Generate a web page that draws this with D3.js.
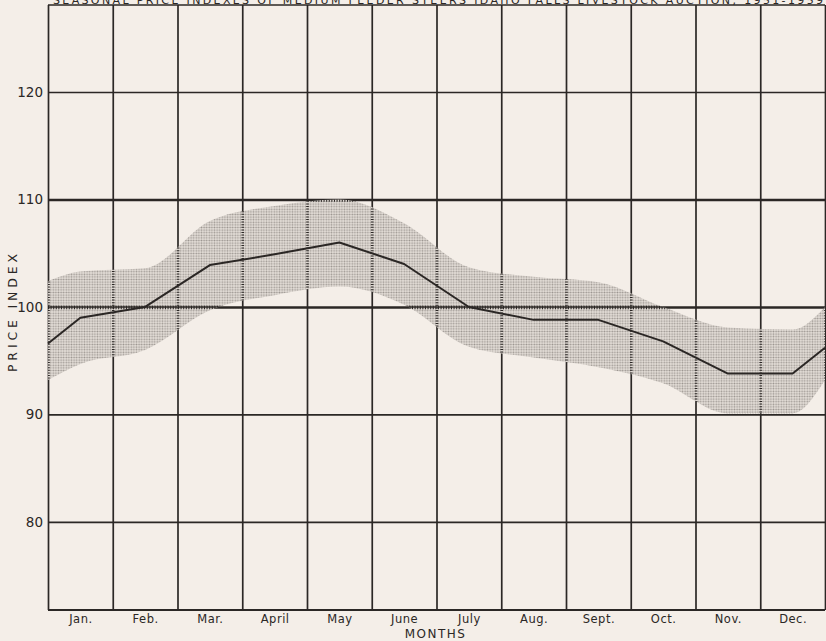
<!DOCTYPE html>
<html>
<head>
<meta charset="utf-8">
<script src="https://cdn.jsdelivr.net/npm/d3@7"></script>
<style>
  html, body { margin: 0; padding: 0; background: #f4eee8; }
  svg { display: block; }
  text { font-family: "DejaVu Sans", "Liberation Sans", sans-serif; fill: #2b2725; }
</style>
</head>
<body>
<svg id="chart" width="826" height="641"></svg>
<script>
// ---- data ----
const titleText = "SEASONAL PRICE INDEXES OF MEDIUM FEEDER STEERS IDAHO FALLS LIVESTOCK AUCTION, 1951-1959";
const months = ["Jan.", "Feb.", "Mar.", "April", "May", "June", "July", "Aug.", "Sept.", "Oct.", "Nov.", "Dec."];
const priceIndex = [99.0, 100.0, 103.9, 104.9, 106.0, 104.0, 100.0, 98.8, 98.8, 96.8, 93.8, 93.8];
const upperBand  = [103.3, 103.6, 108.0, 109.4, 110.0, 107.8, 103.7, 102.8, 102.3, 100.0, 98.1, 97.9];
const lowerBand  = [94.7, 96.0, 99.7, 101.1, 101.9, 100.2, 96.3, 95.3, 94.4, 92.9, 90.1, 90.1];
// values at the left (start of year) and right (end of year) edges of the grid
const edgeIndex = [96.6, 96.2];
const edgeUpper = [102.4, 100.0];
const edgeLower = [93.2, 93.2];
const yTicks = [80, 90, 100, 110, 120];
const heavyTicks = [100, 110];

(function () {
const pL = 48, pR = 825, pT = 5, pB = 610;
const svg = d3.select("#chart");

const x = d3.scaleLinear().domain([-0.5, 11.5]).range([pL, pR]);
const y = d3.scaleLinear().domain([71.8, 128.1]).range([pB, pT]);

function withEdges(arr, edges) {
  const pts = [{i: -0.5, v: edges[0]}];
  arr.forEach((v, i) => pts.push({i, v}));
  pts.push({i: 11.5, v: edges[1]});
  return pts;
}
const linePts = withEdges(priceIndex, edgeIndex);
const upPts = withEdges(upperBand, edgeUpper);
const loPts = withEdges(lowerBand, edgeLower);
const bandPts = upPts.map((d, k) => ({i: d.i, hi: d.v, lo: loPts[k].v}));

const defs = svg.append("defs");
const pat = defs.append("pattern").attr("id", "stipple")
  .attr("patternUnits", "userSpaceOnUse").attr("width", 2.6).attr("height", 2.6);
pat.append("rect").attr("width", 2.6).attr("height", 2.6).attr("fill", "#e6e0da");
pat.append("circle").attr("cx", 1.3).attr("cy", 1.3).attr("r", 0.9).attr("fill", "#9d9792");

const area = d3.area()
  .x(d => x(d.i)).y0(d => y(d.lo)).y1(d => y(d.hi))
  .curve(d3.curveMonotoneX);

defs.append("clipPath").attr("id", "bandClip")
  .append("path").attr("d", area(bandPts));

function drawGrid(g, dashed) {
  const hAxis = d3.axisLeft(y).tickValues(yTicks).tickSize(-(pR - pL)).tickFormat("");
  const hg = g.append("g").attr("transform", `translate(${pL},0)`).call(hAxis);
  hg.select(".domain").remove();
  hg.selectAll(".tick line")
    .attr("stroke", "#2b2725")
    .attr("stroke-width", d => heavyTicks.includes(d) ? (dashed ? 3.6 : 2.6) : (dashed ? 2.6 : 1.6))
    .attr("stroke-dasharray", dashed ? "1,1.6" : null);

  const vAxis = d3.axisBottom(x).tickValues(d3.range(-0.5, 12, 1)).tickSize(-(pB - pT)).tickFormat("");
  const vg = g.append("g").attr("transform", `translate(0,${pB})`).call(vAxis);
  vg.select(".domain").remove();
  vg.selectAll(".tick line")
    .attr("stroke", "#2b2725")
    .attr("stroke-width", dashed ? 2.6 : 1.7)
    .attr("stroke-dasharray", dashed ? "1,1.6" : null);
}

drawGrid(svg.append("g"), false);

svg.append("line").attr("x1", pL).attr("x2", pR).attr("y1", pT).attr("y2", pT)
  .attr("stroke", "#2b2725").attr("stroke-width", 1.6);
svg.append("line").attr("x1", pL).attr("x2", pR).attr("y1", pB).attr("y2", pB)
  .attr("stroke", "#2b2725").attr("stroke-width", 1.8);

svg.append("path").attr("d", area(bandPts)).attr("fill", "url(#stipple)");

const clipG = svg.append("g").attr("clip-path", "url(#bandClip)");
drawGrid(clipG, true);
clipG.append("line").attr("x1", pL).attr("x2", pR).attr("y1", y(100)).attr("y2", y(100))
  .attr("stroke", "#2b2725").attr("stroke-width", 1.6);

const line = d3.line().x(d => x(d.i)).y(d => y(d.v)).curve(d3.curveLinear);
svg.append("path").datum(linePts).attr("d", line)
  .attr("fill", "none").attr("stroke", "#2b2725").attr("stroke-width", 2)
  .attr("stroke-linejoin", "round");

const yLab = d3.axisLeft(y).tickValues(yTicks).tickSize(0).tickPadding(5);
const yl = svg.append("g").attr("transform", `translate(${pL},0)`).call(yLab);
yl.select(".domain").remove();
yl.selectAll("text").attr("font-size", 13.5).attr("font-family", "DejaVu Sans, sans-serif").attr("fill", "#2b2725");

const xLab = d3.axisBottom(x).tickValues(d3.range(0, 12)).tickSize(0).tickPadding(5)
  .tickFormat(i => months[i]);
const xl = svg.append("g").attr("transform", `translate(0,${pB})`).call(xLab);
xl.select(".domain").remove();
xl.selectAll("text").attr("font-size", 11.5).attr("font-family", "DejaVu Sans, sans-serif")
  .attr("letter-spacing", "0.5px").attr("fill", "#2b2725");

svg.append("text").attr("x", (pL + pR) / 2 - 1).attr("y", 638)
  .attr("text-anchor", "middle").attr("font-size", 12).attr("letter-spacing", "1.5px")
  .text("MONTHS");
svg.append("text").attr("transform", "translate(17,313) rotate(-90)")
  .attr("text-anchor", "middle").attr("font-size", 12.5)
  .attr("textLength", 118).attr("lengthAdjust", "spacing")
  .text("PRICE INDEX");

svg.append("text").attr("x", 53).attr("y", 3.5)
  .attr("font-size", 11).attr("textLength", 770).attr("lengthAdjust", "spacing")
  .text(titleText);
})();
</script>
</body>
</html>
